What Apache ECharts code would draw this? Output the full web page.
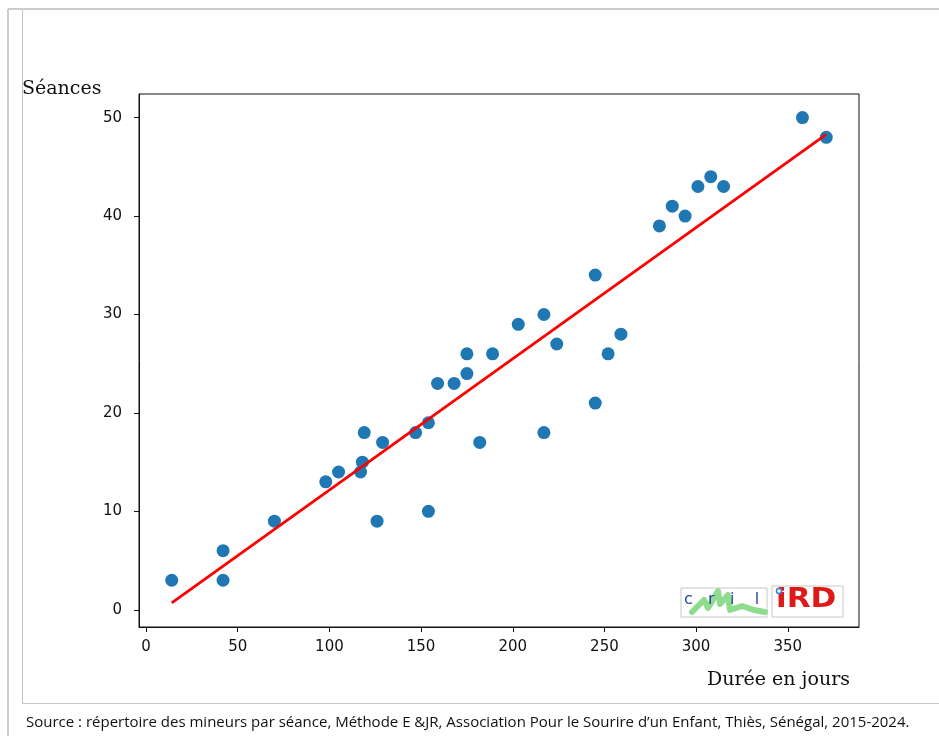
<!DOCTYPE html>
<html>
<head>
<meta charset="utf-8">
<script src="https://cdn.jsdelivr.net/npm/echarts@6/dist/echarts.min.js"></script>
<style>
html,body{margin:0;padding:0;background:#fff;}
#chart{width:939px;height:736px;}
</style>
</head>
<body>
<div id="chart"></div>
<script>
// Durée (jours) and Séances per minor
var duree = [14, 42, 42, 70, 98, 105, 117, 118, 119, 126, 129, 147, 154, 154, 159, 168, 175, 175, 182, 189, 203, 217, 217, 224, 245, 245, 252, 259, 280, 287, 294, 301, 308, 315, 358, 371];
var seances = [3, 6, 3, 9, 13, 14, 14, 15, 18, 9, 17, 18, 19, 10, 23, 23, 24, 26, 17, 26, 29, 30, 18, 27, 34, 21, 26, 28, 39, 41, 40, 43, 44, 43, 50, 48];
// Fitted regression line end points
var fitX = [14, 371];
var fitY = [0.7, 48.3];
var xTicks = [0, 50, 100, 150, 200, 250, 300, 350];
var yTicks = [0, 10, 20, 30, 40, 50];
var xTitle = 'Durée en jours';
var yTitle = 'Séances';
var sourceText = 'Source : répertoire des mineurs par séance, Méthode E &JR, Association Pour le Sourire d\u2019un Enfant, Thiès, Sénégal, 2015-2024.';

var scatterData = duree.map(function (d, i) { return [d, seances[i]]; });
var lineData = fitX.map(function (d, i) { return [d, fitY[i]]; });

var chart = echarts.init(document.getElementById('chart'), null, {renderer: 'canvas'});
chart.setOption({
  animation: false,
  backgroundColor: '#fff',
  grid: {left: 139, top: 94, width: 720, height: 533, show: true, borderColor: '#111', borderWidth: 1, backgroundColor: 'transparent', containLabel: false},
  xAxis: {
    type: 'value', min: -3.85, max: 388.85,
    axisLine: {show: true, onZero: false, lineStyle: {color: '#111', width: 1}},
    axisTick: {show: true, length: 5, customValues: xTicks, lineStyle: {color: '#111'}},
    axisLabel: {show: true, margin: 13, customValues: xTicks, fontFamily: '"DejaVu Sans"', fontSize: 15, color: '#111'},
    splitLine: {show: false}
  },
  yAxis: {
    type: 'value', min: -1.75, max: 52.4,
    axisLine: {show: true, onZero: false, lineStyle: {color: '#111', width: 1}},
    axisTick: {show: true, length: 5, customValues: yTicks, lineStyle: {color: '#111'}},
    axisLabel: {show: true, margin: 17, customValues: yTicks, fontFamily: '"DejaVu Sans"', fontSize: 15, color: '#111'},
    splitLine: {show: false}
  },
  series: [
    {
      type: 'scatter', data: scatterData, symbolSize: 13,
      itemStyle: {color: '#1f77b4', opacity: 1}, z: 2
    },
    {
      type: 'line', data: lineData, showSymbol: false, symbol: 'none',
      lineStyle: {color: '#ff0000', width: 2.8}, z: 3
    }
  ],
  graphic: [
    // outer frame
    {type: 'line', shape: {x1: 8, y1: 9, x2: 939, y2: 9}, style: {stroke: '#cccccc', lineWidth: 2}},
    {type: 'line', shape: {x1: 8, y1: 9, x2: 8, y2: 736}, style: {stroke: '#cccccc', lineWidth: 2}},
    {type: 'line', shape: {x1: 22.5, y1: 10, x2: 22.5, y2: 703.5}, style: {stroke: '#c4c4c4', lineWidth: 1}},
    {type: 'line', shape: {x1: 22.5, y1: 703.5, x2: 939, y2: 703.5}, style: {stroke: '#c4c4c4', lineWidth: 1}},
    // axis titles
    {type: 'text', left: 22, top: 80, style: {text: yTitle, font: '19px "DejaVu Serif"', fill: '#111'}},
    {type: 'text', left: 707, top: 671, style: {text: xTitle, font: '19px "DejaVu Serif"', fill: '#111'}},
    // source
    {type: 'text', left: 26, top: 715, style: {text: sourceText, font: '15px "Open Sans"', fill: '#111'}},
    // logos
    {type: 'rect', shape: {x: 681, y: 588, width: 86, height: 29}, style: {fill: '#fff', stroke: '#c8c8c8', lineWidth: 1}},
    {type: 'polyline', shape: {points: [[692, 612], [704, 600], [708, 608], [718, 591], [720, 604], [728, 595], [730, 610], [742, 606], [754, 610], [765, 612]]}, style: {stroke: '#8fdc8f', lineWidth: 6, fill: null, lineCap: 'round', lineJoin: 'round'}},
    {type: 'text', left: 684, top: 592, style: {text: 'c   r   i    l', font: '16px "DejaVu Sans"', fill: '#2a4a9a'}},
    {type: 'rect', shape: {x: 772, y: 586, width: 71, height: 31}, style: {fill: '#fff', stroke: '#c8c8c8', lineWidth: 1}},
    {type: 'text', left: 776, top: 586, scaleX: 1.15, style: {text: 'iRD', font: 'bold 27px "DejaVu Sans"', fill: '#e01818'}},
    {type: 'circle', shape: {cx: 779, cy: 591, r: 2.5}, style: {fill: '#fff', stroke: '#3a7fd0', lineWidth: 1.5}}
  ]
});
</script>
</body>
</html>
